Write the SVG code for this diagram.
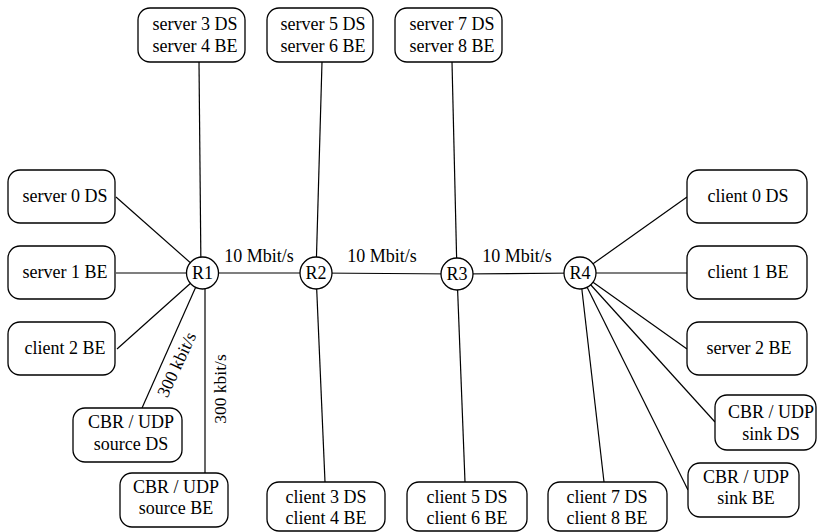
<svg xmlns="http://www.w3.org/2000/svg" width="817" height="532" viewBox="0 0 817 532">
  <rect width="817" height="532" fill="#fff"/>

  <!-- links (drawn first so router circles cover their ends) -->
  <g id="connectors" stroke="#000" stroke-width="1.2" fill="none">
    <line x1="116" y1="197" x2="202" y2="273"/>
    <line x1="116" y1="273" x2="202" y2="273"/>
    <line x1="117" y1="349" x2="202" y2="273"/>
    <line x1="142" y1="408" x2="202" y2="273"/>
    <line x1="205" y1="473" x2="205" y2="280"/>
    <line x1="199" y1="62" x2="201" y2="273"/>
    <line x1="202" y1="273" x2="316" y2="273"/>
    <line x1="316" y1="273" x2="457" y2="274"/>
    <line x1="457" y1="274" x2="580" y2="273"/>
    <line x1="322" y1="62" x2="316" y2="273"/>
    <line x1="325" y1="482" x2="316" y2="273"/>
    <line x1="452" y1="62" x2="457" y2="274"/>
    <line x1="465" y1="482" x2="457" y2="274"/>
    <line x1="687" y1="197" x2="580" y2="273"/>
    <line x1="687" y1="273" x2="580" y2="273"/>
    <line x1="687" y1="349" x2="580" y2="273"/>
    <line x1="715" y1="422" x2="580" y2="273"/>
    <line x1="688" y1="490" x2="580" y2="273"/>
    <line x1="604" y1="482" x2="580" y2="273"/>
  </g>

  <!-- link rates -->
  <g id="link-labels">
    <text font-family="Liberation Serif" font-size="18" text-anchor="middle" x="259" y="262">10 Mbit/s</text>
    <text font-family="Liberation Serif" font-size="18" text-anchor="middle" x="382" y="262">10 Mbit/s</text>
    <text font-family="Liberation Serif" font-size="18" text-anchor="middle" x="517" y="262">10 Mbit/s</text>
    <text font-family="Liberation Serif" font-size="17.5" text-anchor="middle" x="182" y="367" transform="rotate(-65 182 367)">300 kbit/s</text>
    <text font-family="Liberation Serif" font-size="17.5" text-anchor="middle" x="226" y="389" transform="rotate(-90 226 389)">300 kbit/s</text>
  </g>

  <!-- routers -->
  <g id="R1"><circle fill="#fff" stroke="#000" stroke-width="1.3" cx="202.5" cy="273" r="16"/><text font-family="Liberation Serif" font-size="18" text-anchor="middle" x="202.5" y="279">R1</text></g>
  <g id="R2"><circle fill="#fff" stroke="#000" stroke-width="1.3" cx="316" cy="273" r="16"/><text font-family="Liberation Serif" font-size="18" text-anchor="middle" x="316" y="279">R2</text></g>
  <g id="R3"><circle fill="#fff" stroke="#000" stroke-width="1.3" cx="457" cy="274" r="16"/><text font-family="Liberation Serif" font-size="18" text-anchor="middle" x="457" y="280">R3</text></g>
  <g id="R4"><circle fill="#fff" stroke="#000" stroke-width="1.3" cx="580" cy="273" r="16"/><text font-family="Liberation Serif" font-size="18" text-anchor="middle" x="580" y="279">R4</text></g>

  <!-- left hosts -->
  <g id="server0"><rect fill="#fff" stroke="#000" stroke-width="1.3" x="8" y="170" width="107" height="53" rx="12"/><text font-family="Liberation Serif" font-size="18" text-anchor="middle" x="65" y="202">server 0 DS</text></g>
  <g id="server1"><rect fill="#fff" stroke="#000" stroke-width="1.3" x="8" y="246" width="107" height="53" rx="12"/><text font-family="Liberation Serif" font-size="18" text-anchor="middle" x="65" y="278">server 1 BE</text></g>
  <g id="client2"><rect fill="#fff" stroke="#000" stroke-width="1.3" x="8" y="322" width="107" height="53" rx="12"/><text font-family="Liberation Serif" font-size="18" text-anchor="middle" x="65" y="354">client 2 BE</text></g>
  <g id="sourceDS"><rect fill="#fff" stroke="#000" stroke-width="1.3" x="73" y="408" width="109" height="54" rx="12"/><text font-family="Liberation Serif" font-size="18" text-anchor="middle" x="131" y="428">CBR / UDP</text><text font-family="Liberation Serif" font-size="18" text-anchor="middle" x="131" y="450">source DS</text></g>
  <g id="sourceBE"><rect fill="#fff" stroke="#000" stroke-width="1.3" x="120" y="473" width="108" height="54" rx="12"/><text font-family="Liberation Serif" font-size="18" text-anchor="middle" x="176" y="493">CBR / UDP</text><text font-family="Liberation Serif" font-size="18" text-anchor="middle" x="176" y="514">source BE</text></g>

  <!-- top hosts -->
  <g id="server34"><rect fill="#fff" stroke="#000" stroke-width="1.3" x="138" y="8" width="107" height="54" rx="12"/><text font-family="Liberation Serif" font-size="18" text-anchor="middle" x="195" y="30">server 3 DS</text><text font-family="Liberation Serif" font-size="18" text-anchor="middle" x="195" y="52">server 4 BE</text></g>
  <g id="server56"><rect fill="#fff" stroke="#000" stroke-width="1.3" x="267" y="8" width="106" height="54" rx="12"/><text font-family="Liberation Serif" font-size="18" text-anchor="middle" x="323" y="30">server 5 DS</text><text font-family="Liberation Serif" font-size="18" text-anchor="middle" x="323" y="52">server 6 BE</text></g>
  <g id="server78"><rect fill="#fff" stroke="#000" stroke-width="1.3" x="395" y="8" width="107" height="54" rx="12"/><text font-family="Liberation Serif" font-size="18" text-anchor="middle" x="452" y="30">server 7 DS</text><text font-family="Liberation Serif" font-size="18" text-anchor="middle" x="452" y="52">server 8 BE</text></g>

  <!-- bottom hosts -->
  <g id="client34"><rect fill="#fff" stroke="#000" stroke-width="1.3" x="267" y="482" width="118" height="49" rx="12"/><text font-family="Liberation Serif" font-size="18" text-anchor="middle" x="326" y="503">client 3 DS</text><text font-family="Liberation Serif" font-size="18" text-anchor="middle" x="326" y="524">client 4 BE</text></g>
  <g id="client56"><rect fill="#fff" stroke="#000" stroke-width="1.3" x="407" y="482" width="120" height="49" rx="12"/><text font-family="Liberation Serif" font-size="18" text-anchor="middle" x="467" y="503">client 5 DS</text><text font-family="Liberation Serif" font-size="18" text-anchor="middle" x="467" y="524">client 6 BE</text></g>
  <g id="client78"><rect fill="#fff" stroke="#000" stroke-width="1.3" x="548" y="482" width="119" height="49" rx="12"/><text font-family="Liberation Serif" font-size="18" text-anchor="middle" x="607" y="503">client 7 DS</text><text font-family="Liberation Serif" font-size="18" text-anchor="middle" x="607" y="524">client 8 BE</text></g>

  <!-- right hosts -->
  <g id="client0"><rect fill="#fff" stroke="#000" stroke-width="1.3" x="687" y="170" width="120" height="53" rx="12"/><text font-family="Liberation Serif" font-size="18" text-anchor="middle" x="748" y="202">client 0 DS</text></g>
  <g id="client1"><rect fill="#fff" stroke="#000" stroke-width="1.3" x="687" y="246" width="120" height="53" rx="12"/><text font-family="Liberation Serif" font-size="18" text-anchor="middle" x="748" y="278">client 1 BE</text></g>
  <g id="server2"><rect fill="#fff" stroke="#000" stroke-width="1.3" x="687" y="322" width="120" height="53" rx="12"/><text font-family="Liberation Serif" font-size="18" text-anchor="middle" x="749" y="354">server 2 BE</text></g>
  <g id="sinkDS"><rect fill="#fff" stroke="#000" stroke-width="1.3" x="715" y="395" width="101" height="55" rx="12"/><text font-family="Liberation Serif" font-size="18" text-anchor="middle" x="771" y="418">CBR / UDP</text><text font-family="Liberation Serif" font-size="18" text-anchor="middle" x="771" y="440">sink DS</text></g>
  <g id="sinkBE"><rect fill="#fff" stroke="#000" stroke-width="1.3" x="688" y="463" width="111" height="54" rx="12"/><text font-family="Liberation Serif" font-size="18" text-anchor="middle" x="746" y="483">CBR / UDP</text><text font-family="Liberation Serif" font-size="18" text-anchor="middle" x="746" y="504">sink BE</text></g>
</svg>
